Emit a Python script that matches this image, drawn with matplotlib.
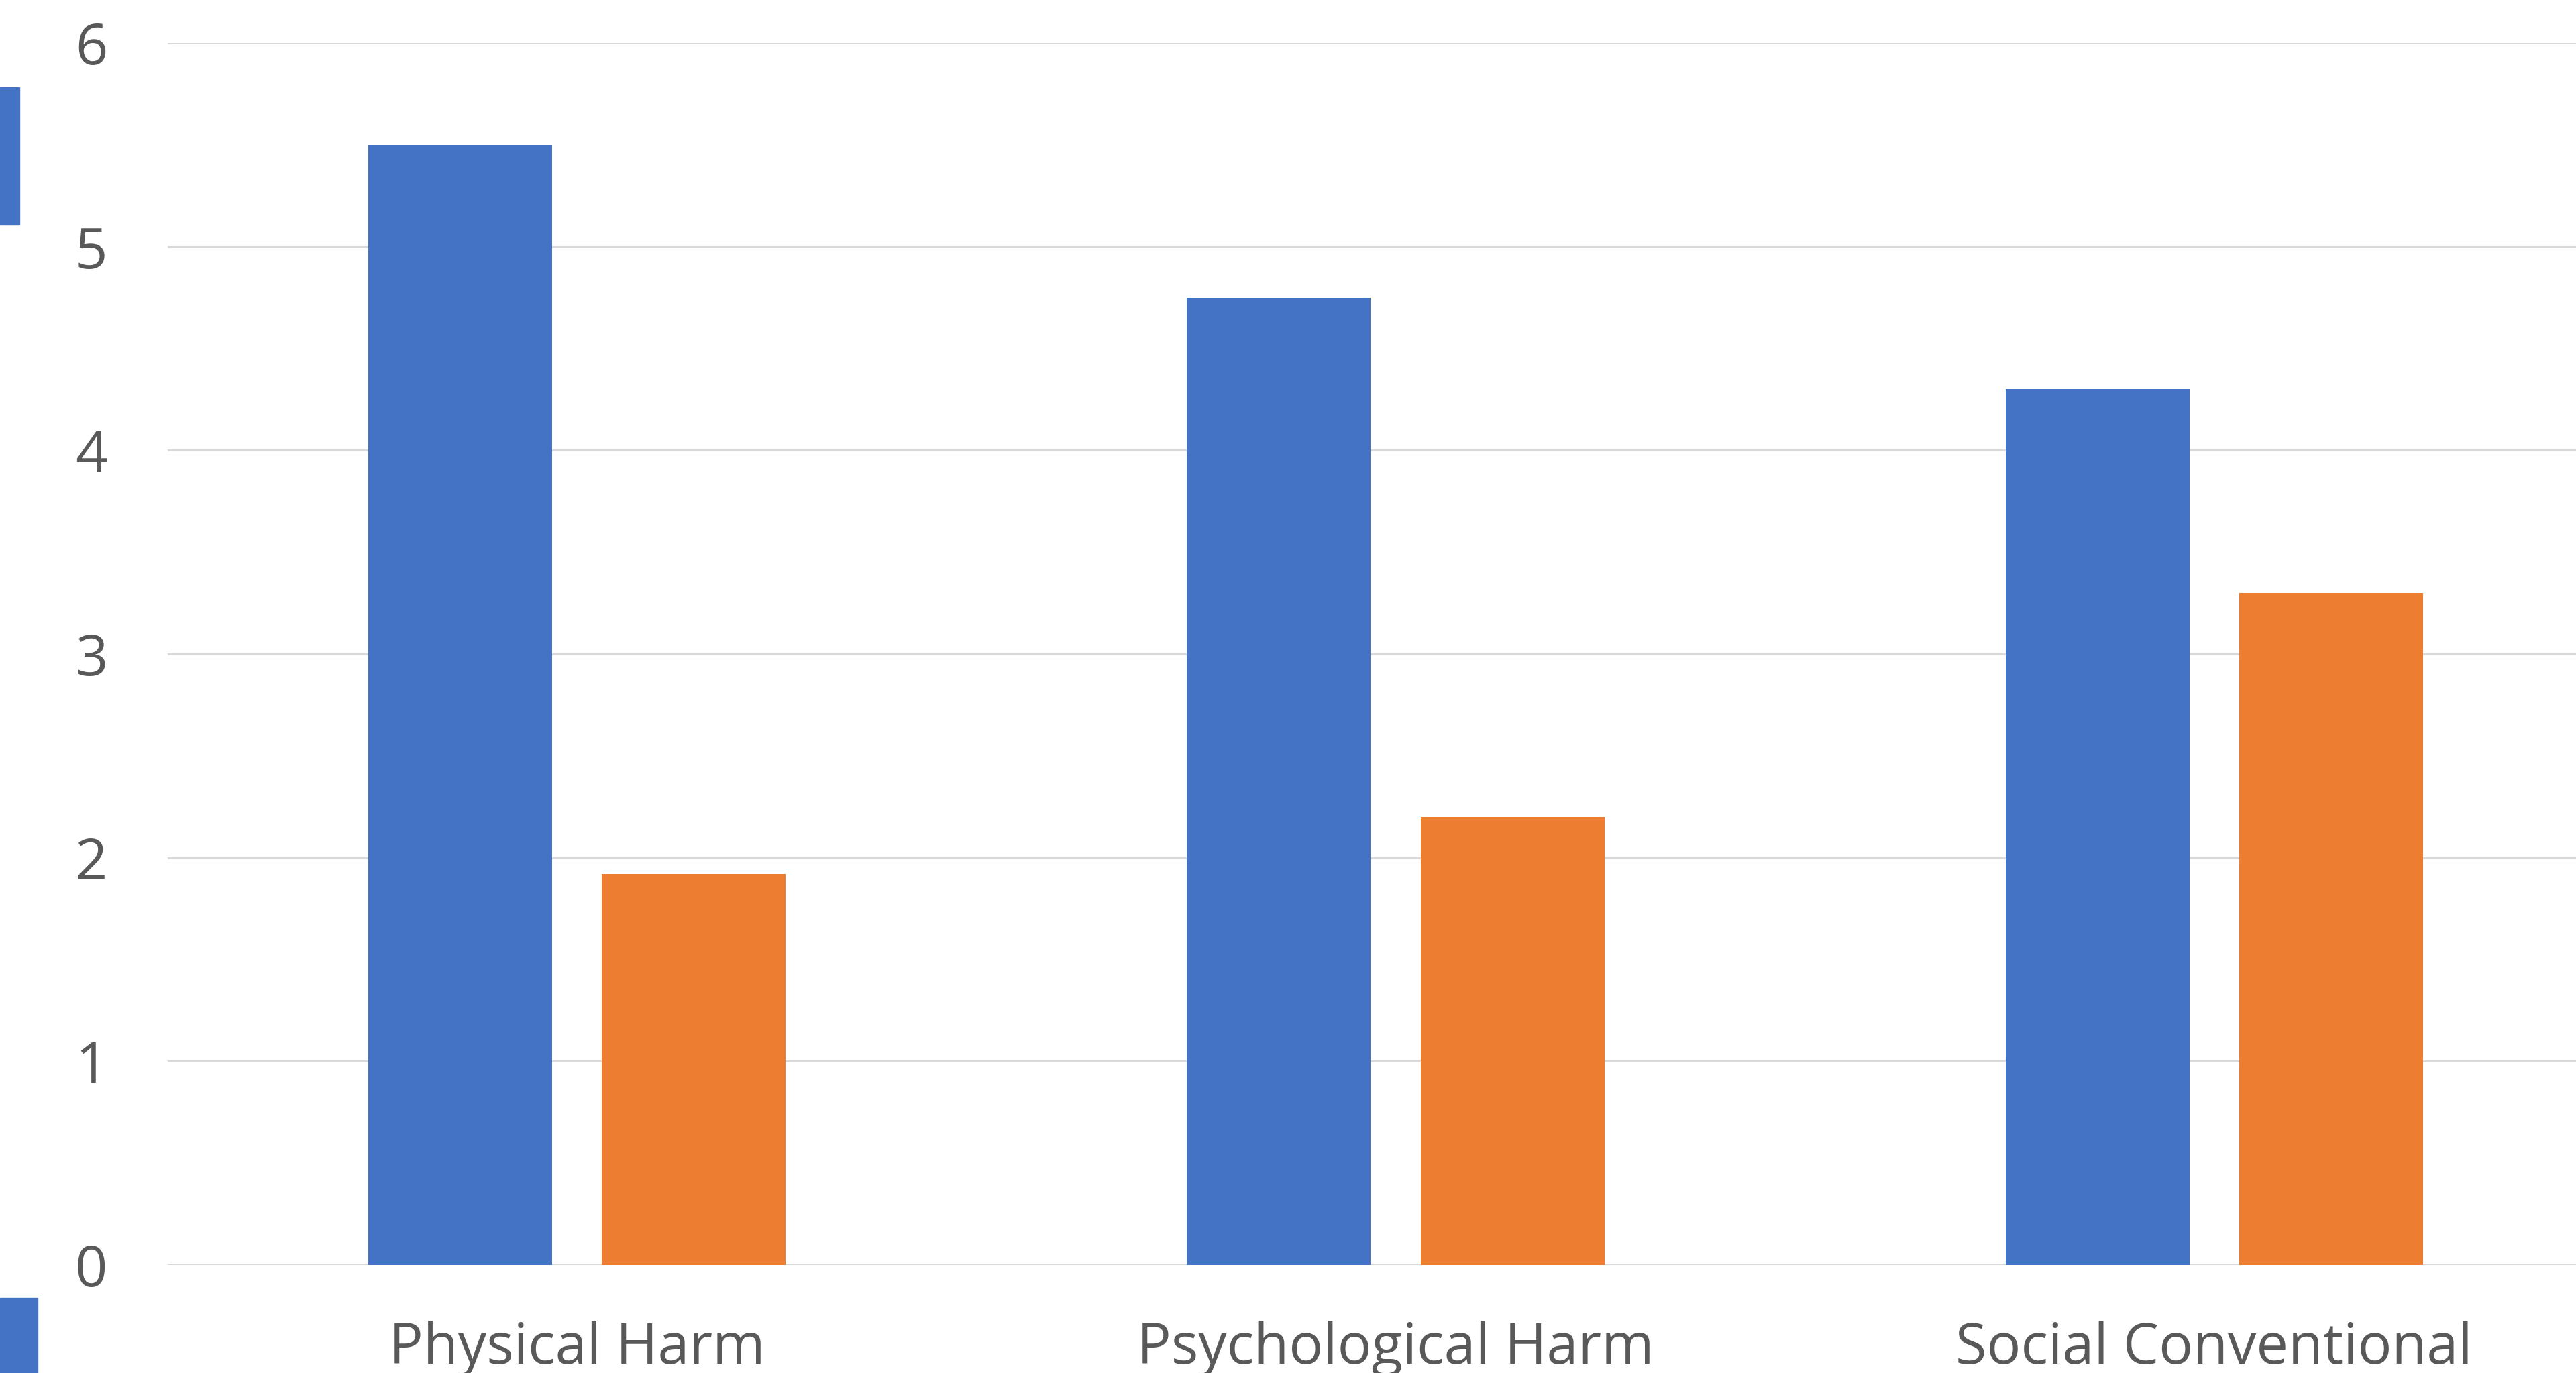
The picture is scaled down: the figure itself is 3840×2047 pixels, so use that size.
import matplotlib
matplotlib.use("Agg")
import matplotlib.pyplot as plt
import numpy as np
from matplotlib.patches import Rectangle

# Mean ratings per transgression type
categories = ["Physical Harm", "Psychological Harm", "Social Conventional"]
series_a = [5.50, 4.75, 4.30]
series_b = [1.92, 2.20, 3.30]
y_ticks = [0, 1, 2, 3, 4, 5, 6]

BLUE = "#4472C4"
ORANGE = "#ED7D31"
TEXT = "#595959"
GRID = "#D9D9D9"

plt.rcParams["font.family"] = ["Open Sans", "DejaVu Sans"]

W, H = 3841, 2047
fig = plt.figure(figsize=(W / 100, H / 100), dpi=100)
fig.patch.set_facecolor("white")

# Plot area (extends past the right edge of the canvas)
left_px, right_px = 250, 3911
top_px, bottom_px = 64, 1886
ax = fig.add_axes([left_px / W, 1 - bottom_px / H,
                   (right_px - left_px) / W, (bottom_px - top_px) / H])

x = np.arange(len(categories))
bar_w = 0.2245
offset = 0.1426
ax.bar(x - offset, series_a, width=bar_w, color=BLUE, zorder=3)
ax.bar(x + offset, series_b, width=bar_w, color=ORANGE, zorder=3)

ax.set_xlim(-0.5, len(categories) - 0.5)
ax.set_ylim(0, 6)
ax.set_yticks(y_ticks)
ax.set_yticklabels([str(t) for t in y_ticks])
ax.set_xticks(x)
ax.set_xticklabels(categories)

for t in y_ticks:
    ax.axhline(t, color=GRID, linewidth=2.2, zorder=1)

for s in ax.spines.values():
    s.set_visible(False)
ax.tick_params(axis="y", length=0, pad=82, labelsize=61, labelcolor=TEXT)
ax.tick_params(axis="x", length=0, pad=60, labelsize=61, labelcolor=TEXT)
for lbl in ax.get_yticklabels():
    lbl.set_horizontalalignment("center")

# Legend swatches partially visible at the left edge
fig.patches.append(Rectangle((0, 1 - 335 / H), 29 / W, 205 / H,
                             transform=fig.transFigure, color=BLUE, zorder=5))
fig.patches.append(Rectangle((0, 0), 56 / W, 112 / H,
                             transform=fig.transFigure, color=BLUE, zorder=5))

fig.savefig("out.png", dpi=100, facecolor="white")
